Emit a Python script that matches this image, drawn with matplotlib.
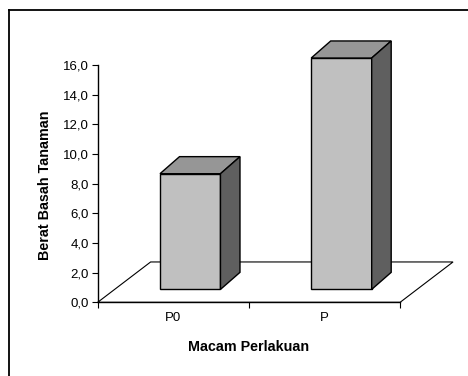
import matplotlib
matplotlib.use("Agg")
import matplotlib.pyplot as plt
from matplotlib.patches import Polygon
from matplotlib.lines import Line2D

# Data
categories = ["P0", "P"]
berat_basah = [7.8, 15.6]
y_ticks = [0, 2, 4, 6, 8, 10, 12, 14, 16]
y_tick_labels = ["0,0", "2,0", "4,0", "6,0", "8,0", "10,0", "12,0", "14,0", "16,0"]
x_label = "Macam Perlakuan"
y_label = "Berat Basah Tanaman"

plt.rcParams['font.family'] = ['Liberation Sans', 'DejaVu Sans']

W, H = 468, 376
fig = plt.figure(figsize=(W / 100, H / 100), dpi=100)
fig.patch.set_facecolor("white")

# axes placement (pixels from the top-left corner)
ax_l, ax_r, ax_t, ax_b = 59.9, 460.6, 29.4, 320.1
ax = fig.add_axes([ax_l / W, 1 - ax_b / H, (ax_r - ax_l) / W, (ax_b - ax_t) / H])
ax.set_xlim(-0.25, 2.4)
ax.set_ylim(-1.2, 18.4)
ax.patch.set_visible(False)

# 3-D look: oblique depth offset of the floor and of each column
floor_dx, floor_dy = 0.35, 2.72
bar_dx, bar_dy = 0.129, 1.15
depth_front = 0.32          # fraction of floor depth where column fronts sit
bar_width = 0.4

face_col = "#c0c0c0"
top_col = "#969696"
side_col = "#5f5f5f"

# floor
ax.add_patch(Polygon([(0, 0), (2, 0), (2 + floor_dx, floor_dy), (floor_dx, floor_dy)],
                     closed=True, facecolor="white", edgecolor="black", lw=0.8, zorder=1))

off_x = depth_front * floor_dx
off_y = depth_front * floor_dy
centers = [i + 0.5 for i in range(len(categories))]

bars = ax.bar([c + off_x for c in centers], berat_basah, width=bar_width, bottom=off_y,
              color=face_col, edgecolor="black", linewidth=1.0, zorder=3)

for rect in bars:
    xl = rect.get_x()
    xr = xl + rect.get_width()
    yb = rect.get_y()
    yt = yb + rect.get_height()
    ax.add_patch(Polygon([(xl, yt), (xr, yt), (xr + bar_dx, yt + bar_dy), (xl + bar_dx, yt + bar_dy)],
                         closed=True, facecolor=top_col, edgecolor="black", lw=1.0, zorder=3))
    ax.add_patch(Polygon([(xr, yb), (xr + bar_dx, yb + bar_dy), (xr + bar_dx, yt + bar_dy), (xr, yt)],
                         closed=True, facecolor=side_col, edgecolor="black", lw=1.0, zorder=3))

# axes lines
for s in ["top", "right"]:
    ax.spines[s].set_visible(False)
ax.spines["left"].set_position(("data", 0))
ax.spines["bottom"].set_position(("data", 0))
ax.spines["left"].set_bounds(0, 16)
ax.spines["bottom"].set_bounds(0, 2)
ax.spines["left"].set_linewidth(1.0)
ax.spines["bottom"].set_linewidth(1.0)
ax.spines["left"].set_zorder(4)
ax.spines["bottom"].set_zorder(4)

ax.set_yticks(y_ticks)
ax.set_yticklabels(y_tick_labels, fontsize=9.5)
ax.tick_params(axis="y", direction="out", length=4, width=0.8, pad=2.2)

ax.set_xticks([0, 1, 2])
ax.set_xticklabels([])
ax.set_xticks(centers, minor=True)
ax.set_xticklabels(categories, minor=True, fontsize=9.5)
ax.tick_params(axis="x", which="major", direction="out", length=4, width=0.8)
ax.tick_params(axis="x", which="minor", length=0, pad=7)

ax.text(0.470, -0.0925, x_label, transform=ax.transAxes, ha="center", va="center",
        fontsize=10.3, fontweight="bold")
ax.text(-0.037, 0.465, y_label, transform=ax.transAxes, ha="center", va="center",
        rotation=90, fontsize=10.3, fontweight="bold")

# chart-area frame
fig.add_artist(Line2D([8.5 / W, 1.0], [1 - 9.5 / H, 1 - 9.5 / H], color="black", lw=1.3,
                      transform=fig.transFigure))
fig.add_artist(Line2D([8.5 / W, 8.5 / W], [1 - 9.5 / H, 0.0], color="black", lw=1.3,
                      transform=fig.transFigure))

fig.savefig("out.png", dpi=100)
